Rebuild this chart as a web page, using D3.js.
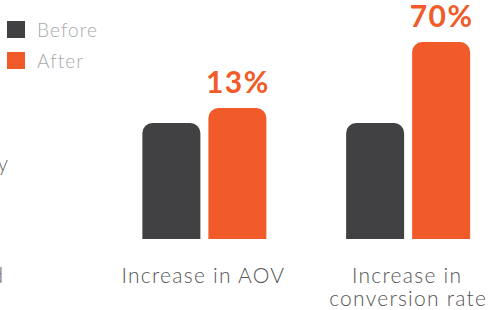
<!DOCTYPE html>
<html>
<head>
<meta charset="utf-8">
<script src="https://cdnjs.cloudflare.com/ajax/libs/d3/7.8.5/d3.min.js"></script>
<style>
  html, body { margin: 0; padding: 0; background: #fff; }
  svg { display: block; font-family: Lato, "Open Sans", sans-serif; }
</style>
</head>
<body>
<svg width="490" height="310"></svg>
<script>
var categories = ["Increase in AOV", "Increase in conversion rate"],
    categoryLines = [["Increase in AOV"], ["Increase in", "conversion rate"]],
    series = ["Before", "After"],
    beforeValues = [100, 100],
    afterValues = [113, 170],
    changeLabels = ["13%", "70%"]

var colors = { Before: "#414042", After: "#f15a29" }

var svg = d3.select("svg")
var baseline = 239

var x0 = d3.scaleBand().domain(categories).range([102.5, 510])
var x1 = d3.scaleBand().domain(series).range([-62, 62]).paddingInner(2 - 124 / 66)
var y = d3.scaleLinear().domain([0, 170]).range([baseline, 42])

function topRounded(x, yTop, w, h, r) {
    var p = d3.path()
    p.moveTo(x, yTop + h)
    p.lineTo(x, yTop + r)
    p.arcTo(x, yTop, x + r, yTop, r)
    p.lineTo(x + w - r, yTop)
    p.arcTo(x + w, yTop, x + w, yTop + r, r)
    p.lineTo(x + w, yTop + h)
    p.closePath()
    return p.toString()
}

var rows = categories.map(function(c, i) {
    return { cat: c, lines: categoryLines[i], Before: beforeValues[i], After: afterValues[i], label: changeLabels[i] }
})

var groups = svg.selectAll("g.grp")
    .data(rows)
    .enter()
    .append("g")
    .attr("class", "grp")
    .attr("transform", function(d) { return "translate(" + (x0(d.cat) + x0.bandwidth() / 2) + ",0)" })

groups.selectAll("path")
    .data(function(d) { return series.map(function(s) { return { s: s, v: d[s] } }) })
    .enter()
    .append("path")
    .attr("d", function(d) {
        return topRounded(x1(d.s), y(d.v), x1.bandwidth(), baseline - y(d.v), 10)
    })
    .attr("fill", function(d) { return colors[d.s] })

groups.append("text")
    .attr("x", x1("After") + x1.bandwidth() / 2 + 0.5)
    .attr("y", function(d) { return y(d.After) - 15 })
    .attr("text-anchor", "middle")
    .attr("fill", "#f15a29")
    .style("font-size", "30px")
    .style("font-weight", "bold")
    .style("letter-spacing", "1.5px")
    .text(function(d) { return d.label })

groups.append("text")
    .attr("text-anchor", "middle")
    .attr("fill", "#555")
    .style("font-size", "21px")
    .style("font-weight", 300)
    .style("letter-spacing", "1.25px")
    .selectAll("tspan")
    .data(function(d) { return d.lines })
    .enter()
    .append("tspan")
    .attr("x", function(d, i) { return i ? 0 : -1 })
    .attr("y", function(d, i) { return 283 + i * 23 })
    .text(function(d) { return d })

// legend
var legend = svg.selectAll("g.leg")
    .data(series)
    .enter()
    .append("g")
    .attr("class", "leg")
    .attr("transform", function(d, i) { return "translate(7," + (21 + i * 31) + ")" })

legend.append("rect")
    .attr("width", 18)
    .attr("height", 17)
    .attr("fill", function(d) { return colors[d] })

legend.append("text")
    .attr("x", 30)
    .attr("y", 16)
    .attr("fill", "#a7a9ac")
    .style("font-size", "19px")
    .style("font-weight", 300)
    .style("letter-spacing", "1.1px")
    .text(function(d) { return d })

// cut-off text at the left edge
svg.append("text").attr("x", 8).attr("y", 171).attr("text-anchor", "end")
    .attr("fill", "#666").style("font-size", "21px").style("font-weight", 300).text("y")
svg.append("text").attr("x", 3).attr("y", 283).attr("text-anchor", "end")
    .attr("fill", "#666").style("font-size", "21px").style("font-weight", 300).text("d")
</script>
</body>
</html>
